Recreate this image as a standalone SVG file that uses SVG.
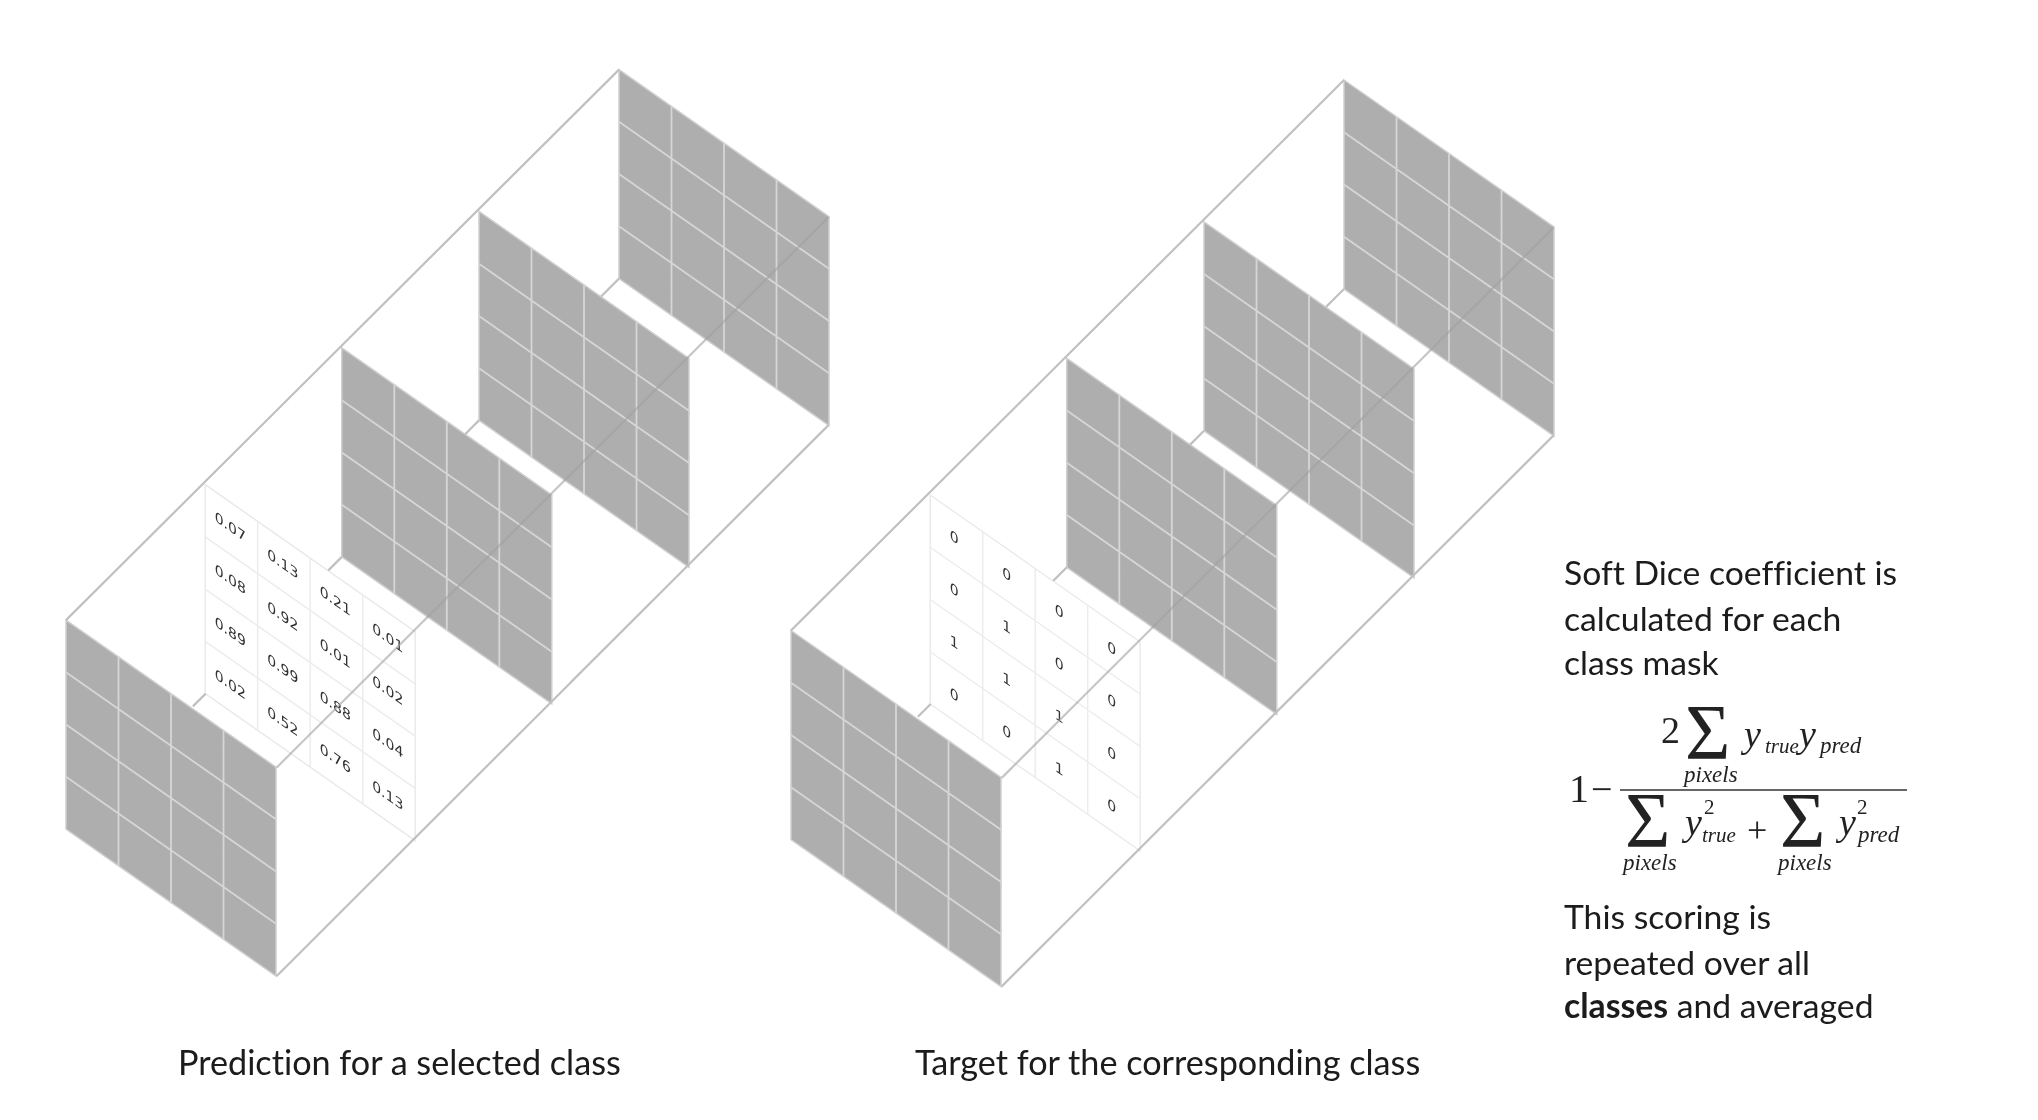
<svg xmlns="http://www.w3.org/2000/svg" width="2038" height="1120" viewBox="0 0 2038 1120">
<style>
.edge{stroke:#c0c0c0;stroke-width:2.2;fill:none}
.over{stroke:#a0a0a0;stroke-opacity:.6;stroke-width:2.2;fill:none}
.gf{fill:#aeaeae;stroke:#cfcfcf;stroke-width:1.5}
.gl{stroke:#d6d6d6;stroke-width:1.8;fill:none}
.wf{fill:#fff;stroke:#e9e9e9;stroke-width:1.4}
.wl{stroke:#ececec;stroke-width:1.4;fill:none}
.n{font-family:"DejaVu Sans",sans-serif;font-size:14px;fill:#333;text-anchor:middle}
.t{font-family:Lato,"Open Sans",sans-serif;font-size:33.7px;fill:#1a1a1a;font-variant-ligatures:none}
.c{font-size:34.2px}
.m{font-family:"Liberation Serif",serif;fill:#222}
.i{font-style:italic}
</style>
<defs>
<filter id="soft" x="-2%" y="-2%" width="104%" height="104%"><feGaussianBlur stdDeviation="0.7"/></filter>
<g id="gray">
<path class="gf" d="M0 0L210 147V356L0 209Z"/>
<path class="gl" d="M52.5 36.75v209M105 73.5v209M157.5 110.25v209M0 52.25L210 199.25M0 104.5L210 251.5M0 156.75L210 303.75"/>
</g>
<g id="white">
<path class="wf" d="M0 0L210 147V356L0 209Z"/>
<path class="wl" d="M52.5 36.75v209M105 73.5v209M157.5 110.25v209M0 52.25L210 199.25M0 104.5L210 251.5M0 156.75L210 303.75"/>
</g>
<g id="edges">
<path class="edge" d="M66 620.100L619 69.600M276.700 976L828.600 425"/>
<path class="edge" d="M619 278.600l-17.900 17.900M479 420.400l-14.100 14.100M341.800 556.900l-13.500 13.500M205.700 693.600l-12.800 12.800"/>
<path class="over" d="M276.700 767.500L828.600 217"/>
</g>
</defs>
<rect width="2038" height="1120" fill="#fff"/>
<g filter="url(#soft)">
<g id="pred-back"><use href="#gray" transform="translate(619 69.6)"/></g>
<g id="pred-3"><use href="#gray" transform="translate(479 211.4)"/></g>
<g id="pred-2"><use href="#gray" transform="translate(341.8 347.9)"/></g>
<g id="pred-1" transform="translate(205.2 484.6)">
<use href="#white"/>
<text class="n" transform="matrix(1 .7 0 1 25 47)">0.07</text>
<text class="n" transform="matrix(1 .7 0 1 25 99.500)">0.08</text>
<text class="n" transform="matrix(1 .7 0 1 25 152)">0.89</text>
<text class="n" transform="matrix(1 .7 0 1 25 204.500)">0.02</text>
<text class="n" transform="matrix(1 .7 0 1 77.500 84)">0.13</text>
<text class="n" transform="matrix(1 .7 0 1 77.500 136.500)">0.92</text>
<text class="n" transform="matrix(1 .7 0 1 77.500 189)">0.99</text>
<text class="n" transform="matrix(1 .7 0 1 77.500 241.500)">0.52</text>
<text class="n" transform="matrix(1 .7 0 1 130 121)">0.21</text>
<text class="n" transform="matrix(1 .7 0 1 130 173.500)">0.01</text>
<text class="n" transform="matrix(1 .7 0 1 130 226)">0.88</text>
<text class="n" transform="matrix(1 .7 0 1 130 278.500)">0.76</text>
<text class="n" transform="matrix(1 .7 0 1 182.500 158)">0.01</text>
<text class="n" transform="matrix(1 .7 0 1 182.500 210.500)">0.02</text>
<text class="n" transform="matrix(1 .7 0 1 182.500 263)">0.04</text>
<text class="n" transform="matrix(1 .7 0 1 182.500 315.500)">0.13</text>
</g>
<g id="pred-front"><use href="#gray" transform="translate(66 620.1)"/></g>

<g transform="translate(725 10.4)">
<g id="target-back"><use href="#gray" transform="translate(619 69.6)"/></g>
<g id="target-3"><use href="#gray" transform="translate(479 211.4)"/></g>
<g id="target-2"><use href="#gray" transform="translate(341.8 347.9)"/></g>
<g id="target-1" transform="translate(205.2 484.6)">
<use href="#white"/>
<text class="n" transform="matrix(1 .7 0 1 24 47)">0</text>
<text class="n" transform="matrix(1 .7 0 1 24 99.500)">0</text>
<text class="n" transform="matrix(1 .7 0 1 24 152)">1</text>
<text class="n" transform="matrix(1 .7 0 1 24 204.500)">0</text>
<text class="n" transform="matrix(1 .7 0 1 76.500 84)">0</text>
<text class="n" transform="matrix(1 .7 0 1 76.500 136.500)">1</text>
<text class="n" transform="matrix(1 .7 0 1 76.500 189)">1</text>
<text class="n" transform="matrix(1 .7 0 1 76.500 241.500)">0</text>
<text class="n" transform="matrix(1 .7 0 1 129 121)">0</text>
<text class="n" transform="matrix(1 .7 0 1 129 173.500)">0</text>
<text class="n" transform="matrix(1 .7 0 1 129 226)">1</text>
<text class="n" transform="matrix(1 .7 0 1 129 278.500)">1</text>
<text class="n" transform="matrix(1 .7 0 1 181.500 158)">0</text>
<text class="n" transform="matrix(1 .7 0 1 181.500 210.500)">0</text>
<text class="n" transform="matrix(1 .7 0 1 181.500 263)">0</text>
<text class="n" transform="matrix(1 .7 0 1 181.500 315.500)">0</text>
</g>
<g id="target-front"><use href="#gray" transform="translate(66 620.1)"/></g>
</g>

<g id="connectors">
<use href="#edges"/>
<use href="#edges" transform="translate(725 10.4)"/>
</g>

<g id="captions">
<text class="t c" x="178" y="1075">Prediction for a selected class</text>
<text class="t c" x="915" y="1075">Target for the corresponding class</text>
</g>
<g id="notes">
<text class="t" x="1564" y="584.700">Soft Dice coefficient is</text>
<text class="t" x="1564" y="630.700">calculated for each</text>
<text class="t" x="1564" y="674.700">class mask</text>
<text class="t" x="1564" y="928.700">This scoring is</text>
<text class="t" x="1564" y="974.700">repeated over all</text>
<text class="t" x="1564" y="1017.700"><tspan font-weight="700">classes</tspan> and averaged</text>
</g>
<g id="formula" class="m">
<text x="1569" y="802" font-size="40">1</text>
<text x="1591" y="802" font-size="38">−</text>
<path d="M1620 790H1907" stroke="#666" stroke-width="2"/>
<text x="1661" y="743" font-size="38">2</text>
<text x="1685" y="758" font-size="78">Σ</text>
<text x="1744" y="747" font-size="38" class="i">y</text>
<text x="1765" y="753" font-size="21" class="i">true</text>
<text x="1799" y="747" font-size="38" class="i">y</text>
<text x="1820" y="753" font-size="23" class="i">pred</text>
<text x="1684" y="782" font-size="23" class="i">pixels</text>
<text x="1625" y="846" font-size="78">Σ</text>
<text x="1685" y="835" font-size="38" class="i">y</text>
<text x="1704" y="814" font-size="21">2</text>
<text x="1702" y="842" font-size="21" class="i">true</text>
<text x="1747" y="842" font-size="36">+</text>
<text x="1780" y="846" font-size="78">Σ</text>
<text x="1839" y="835" font-size="38" class="i">y</text>
<text x="1857" y="814" font-size="21">2</text>
<text x="1858" y="842" font-size="23" class="i">pred</text>
<text x="1623" y="870" font-size="23" class="i">pixels</text>
<text x="1778" y="870" font-size="23" class="i">pixels</text>
</g>
</g>
</svg>
